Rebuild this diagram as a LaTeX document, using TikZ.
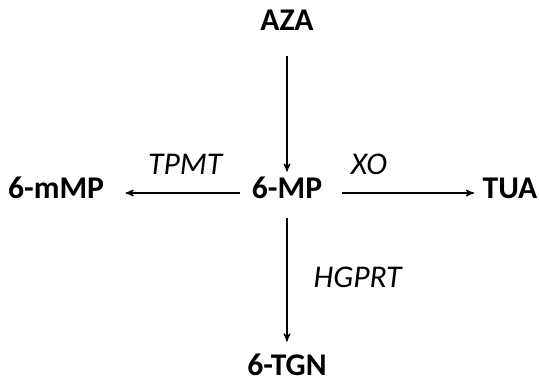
\documentclass[tikz,border=0pt]{standalone}
\usepackage{fontspec}
\setmainfont{Carlito}
\usetikzlibrary{arrows}

\begin{document}
\begin{tikzpicture}[->,>=stealth',x=0.02cm,y=-0.02cm,line width=0.7pt,
  drug/.style={font=\fontsize{18}{21}\selectfont\bfseries,inner sep=0pt,text height=1.38ex,text depth=0pt},
  enzyme/.style={font=\fontsize{18}{21}\selectfont\itshape,inner sep=0pt,text height=1.38ex,text depth=0pt}]
      \useasboundingbox (0,0) rectangle (539,383);

      \node[drug] (MP) at (287,193) {6-MP};
      \node[drug] (AZA) [above of=MP, node distance=3.36cm] {AZA};
      \node[drug] (TGN) [below of=MP, node distance=3.54cm] {6-TGN};
      \node[drug] (mMP) [left of=MP, node distance=4.62cm] {6-mMP};
      \node[drug] (TUA) [right of=MP, node distance=4.46cm] {TUA};

      \path (AZA) edge[shorten <=0.5cm, shorten >=0.3cm] (MP);
      \path (MP) edge[shorten <=0.22cm, shorten >=0.42cm] node[enzyme, pos=0.45, above=0.36cm] {TPMT} (mMP);
      \path (MP) edge[shorten <=0.38cm, shorten >=0.16cm] node[enzyme, pos=0.29, above=0.36cm] {XO} (TUA);
      \path (MP) edge[shorten <=0.38cm, shorten >=0.44cm] node[enzyme, right=0.52cm] {HGPRT} (TGN);

    \end{tikzpicture}
\end{document}
